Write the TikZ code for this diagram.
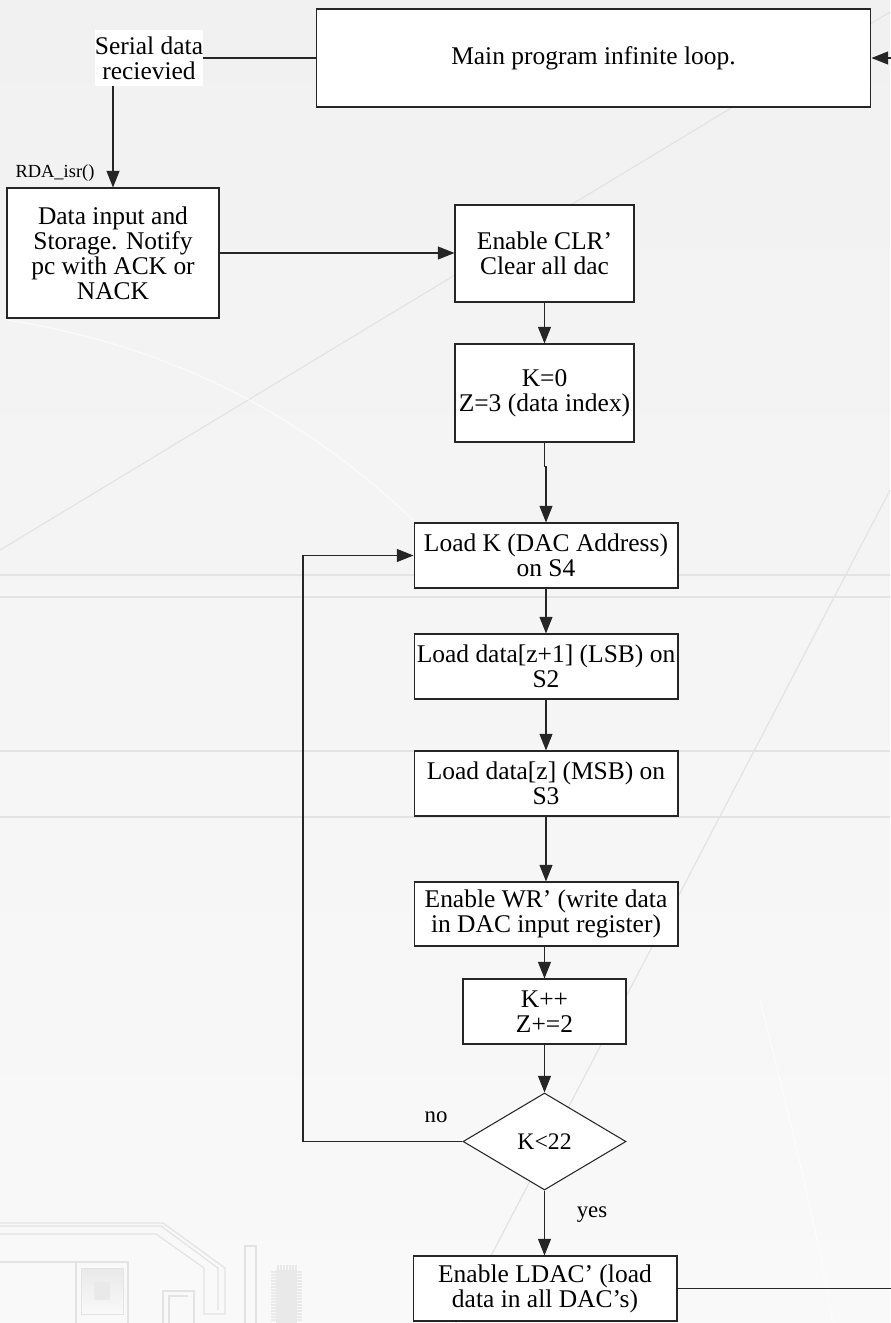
\documentclass[tikz,border=0pt]{standalone}
\usepackage{fontspec}
\setmainfont{Liberation Serif}
\usetikzlibrary{arrows.meta,shapes.geometric,calc}
\definecolor{bgtop}{HTML}{F1F1F1}
\definecolor{bgbot}{HTML}{F9F9F9}
\definecolor{bgline}{HTML}{E3E3E3}
\definecolor{chipc}{HTML}{E9E9E9}
\definecolor{edge}{HTML}{262626}
\begin{document}
\begin{tikzpicture}[x=0.02cm,y=-0.02cm,
  box/.style={draw=edge, fill=white, line width=0.6pt, align=center, inner sep=0.5pt,
              font=\fontsize{14.5}{14.2}\selectfont},
  arr/.style={draw=edge, line width=0.6pt, -{Triangle[length=9.5pt,width=7.4pt]}},
  link/.style={draw=edge, line width=0.6pt},
  bgl/.style={draw=bgline, line width=0.7pt},
  lbl/.style={font=\fontsize{13}{14}\selectfont, inner sep=0pt}]
% background
\useasboundingbox (0,0) rectangle (890,1323);
\shade[top color=bgtop, bottom color=bgbot] (0,0) rectangle (890,1323);
\draw[bgl] (0,550) -- (890,12);
\draw[bgl] (890,490) -- (456,1323);
\draw[bgl] (0,575) -- (890,575);
\draw[bgl] (0,597) -- (890,597);
\draw[bgl] (0,751) -- (890,751);
\draw[bgl] (0,817) -- (890,817);
\draw[white, opacity=0.6, line width=0.7pt] (7,320) .. controls (200,350) and (330,440) .. (413,520);
\draw[white, opacity=0.6, line width=0.7pt] (760,1000) .. controls (790,1120) and (815,1220) .. (833,1323);
% circuit decoration
\draw[bgl] (0,1223) -- (163,1223) -- (225,1268) -- (225,1314) -- (204,1314) -- (204,1268) -- (156,1234) -- (0,1234);
\draw[bgl] (0,1226) -- (161,1226) -- (218,1268) -- (218,1310);
\draw[bgl] (0,1262) -- (128,1262) -- (128,1323);
\draw[bgl] (76,1262) -- (76,1323);
\shade[top color=chipc, bottom color=bgbot, draw=bgline] (81,1268) rectangle (123,1314);
\fill[chipc] (94,1282) rectangle (110,1300);
\draw[bgl] (163,1323) -- (163,1291) -- (194,1291) -- (194,1323);
\draw[bgl] (169,1323) -- (169,1296) -- (188,1296);
\draw[bgl] (245,1323) -- (245,1246) -- (256,1246) -- (256,1323);
\fill[chipc] (276,1270) rectangle (297,1323);
\foreach \yy in {1272,1275,...,1321} {
  \draw[chipc, line width=0.7pt] (271,\yy) -- (276,\yy) (297,\yy) -- (302,\yy);
}
\foreach \xx in {278,281,...,296} {
  \draw[chipc, line width=0.7pt] (\xx,1265) -- (\xx,1270);
}
% nodes
\node[box, minimum width=11.1cm, minimum height=1.96cm] (main) at (593.5,58) {Main program infinite loop.};
\node[fill=white, inner sep=0pt, minimum width=2.16cm, minimum height=1.12cm, align=center,
      font=\fontsize{14.5}{14.2}\selectfont] (serial) at (149,58) {Serial data\\recievied};
\node[box, minimum width=4.24cm, minimum height=2.6cm] (data) at (113,253)
  {Data input and\\Storage. Notify\\pc with ACK or\\NACK};
\node[box, minimum width=3.58cm, minimum height=1.94cm] (clr) at (544.5,253.5) {Enable CLR’\\Clear all dac};
\node[box, minimum width=3.58cm, minimum height=1.96cm] (kz) at (544.5,393) {K=0\\Z=3 (data index)};
\node[box, minimum width=5.28cm, minimum height=1.3cm] (loadk) at (546,555.5) {Load K (DAC Address)\\on S4};
\node[box, minimum width=5.28cm, minimum height=1.3cm] (lsb) at (546,666.5) {Load data[z+1] (LSB) on\\S2};
\node[box, minimum width=5.28cm, minimum height=1.3cm] (msb) at (546,783.5) {Load data[z] (MSB) on\\S3};
\node[box, minimum width=5.28cm, minimum height=1.28cm] (wr) at (546,914) {Enable WR’ (write data\\in DAC input register)};
\node[box, minimum width=3.26cm, minimum height=1.3cm] (kpp) at (544.5,1011.5) {K++\\Z+=2};
\node[box, diamond, inner sep=0pt, minimum width=3.26cm, minimum height=1.94cm,
      font=\fontsize{13.5}{14}\selectfont] (dec) at (544.5,1141.5) {K<22};
\node[box, minimum width=5.28cm, minimum height=1.3cm] (ldac) at (545,1288.5) {Enable LDAC’ (load\\data in all DAC’s)};
% labels
\node[lbl, font=\fontsize{10.5}{12}\selectfont] (rda) at (55,173) {RDA\_isr()};
\node[lbl] (no) at (436,1117) {no};
\node[lbl] (yes) at (592,1215) {yes};
% connectors
\draw[link] (serial.east) -- (main.west);
\draw[arr] (data.north |- serial.south) -- (data.north);
\draw[arr] (data.east) -- (data.east -| clr.west);
\draw[arr] (clr.south) -- (kz.north);
\draw[arr] (kz.south) -- ++(0,24) -| (loadk.north);
\draw[arr] (loadk.south) -- (lsb.north);
\draw[arr] (lsb.south) -- (msb.north);
\draw[arr] (msb.south) -- (wr.north);
\draw[arr] (wr.south -| kpp.north) -- (kpp.north);
\draw[arr] (kpp.south) -- (dec.north);
\coordinate (lp) at (303,1141.5);
\draw[arr] (dec.west) -- (lp) |- (loadk.west);
\draw[arr] (dec.south) -- (dec.south |- ldac.north);
\coordinate (rt) at (930,1288.5);
\coordinate (rt2) at (930,58);
\draw[arr] (ldac.east) -- (rt) -- (rt2) -- (main.east);
\end{tikzpicture}
\end{document}
